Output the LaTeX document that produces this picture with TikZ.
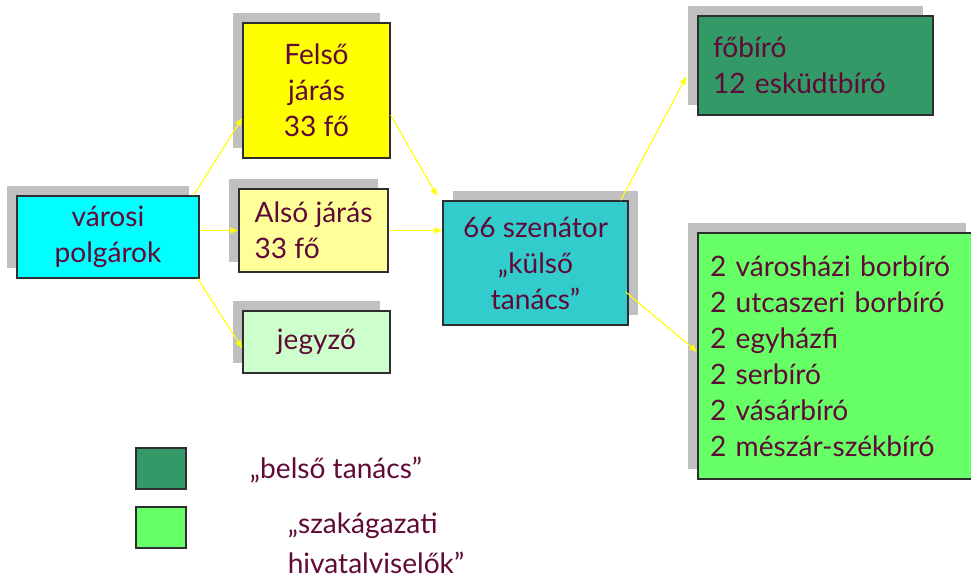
\documentclass[tikz,border=0pt]{standalone}
\usepackage{fontspec}
\setmainfont{Lato}
\usepackage{xcolor}
\usetikzlibrary{calc,shadows,arrows.meta}

\definecolor{szoveg}{RGB}{95,10,55}
\definecolor{keret}{RGB}{45,45,50}
\definecolor{arnyek}{RGB}{192,192,192}
\definecolor{sarga}{RGB}{255,255,0}
\definecolor{cian}{RGB}{0,255,255}
\definecolor{halvanysarga}{RGB}{255,255,153}
\definecolor{halvanyzold}{RGB}{204,255,204}
\definecolor{turkiz}{RGB}{51,204,204}
\definecolor{sotetzold}{RGB}{51,153,102}
\definecolor{vilagoszold}{RGB}{102,255,102}

\begin{document}
\begin{tikzpicture}[x=0.02cm,y=-0.02cm,
  doboz/.style={draw=keret,line width=0.8pt,text=szoveg,inner sep=0pt,
    font=\fontsize{16}{20.5}\selectfont},
  balarnyek/.style={drop shadow={shadow xshift=-0.2cm,shadow yshift=0.2cm,fill=arnyek,opacity=1}},
  jobbarnyek/.style={drop shadow={shadow xshift=0.2cm,shadow yshift=0.2cm,fill=arnyek,opacity=1}},
  nyil/.style={->,>={Latex[length=4.5pt,width=4pt]},draw=sarga,fill=sarga,line width=0.6pt},
  felirat/.style={text=szoveg,font=\fontsize{16}{23}\selectfont}]
\useasboundingbox (0,0) rectangle (971,580);
\clip (0,0) rectangle (971,580);

\node[doboz,balarnyek,fill=cian,minimum width=3.64cm,minimum height=1.64cm,align=center] (varos) at (108,237) {városi\\polgárok};
\node[doboz,balarnyek,fill=sarga,minimum width=2.94cm,minimum height=2.7cm,align=center] (felso) at (316.5,90.5) {Felső\\járás\\33 fő};
\node[doboz,balarnyek,fill=halvanysarga,minimum width=2.98cm,minimum height=1.66cm,align=left] (also) at (313.5,230.5) {Alsó járás\\33 fő};
\node[doboz,balarnyek,fill=halvanyzold,minimum width=2.94cm,minimum height=1.24cm,align=center] (jegyzo) at (316.5,342) {jegyző};
\node[doboz,jobbarnyek,fill=turkiz,minimum width=3.7cm,minimum height=2.48cm,align=center] (szenator) at (535.5,263) {66 szenátor\\„külső\\tanács”};
\node[doboz,balarnyek,fill=sotetzold,minimum width=4.7cm,minimum height=1.98cm,inner xsep=0.3cm,text width=4.1cm,align=left] (fobiro) at (815.5,65.5) {főbíró\\12 esküdtbíró};
\node[doboz,balarnyek,fill=vilagoszold,minimum width=5.56cm,minimum height=4.92cm,inner xsep=0.24cm,text width=5.08cm,align=left] (szakag) at (837,356)
  {2 városházi borbíró\\2 utcaszeri borbíró\\2 egyházfi\\2 serbíró\\2 vásárbíró\\2 mészár-székbíró};

% jelmagyarazat
\node[draw=keret,line width=0.8pt,fill=sotetzold,minimum width=1cm,minimum height=0.82cm] (belsojel) at (161,468.5) {};
\node[draw=keret,line width=0.8pt,fill=vilagoszold,minimum width=1cm,minimum height=0.82cm] (szakjel) at (161,527.5) {};
\node[felirat] (belso) at (336,470) {„belső tanács”};
\node[felirat,align=left] (szakfelirat) at (376,543) {„szakágazati\\hivatalviselők”};

\draw[nyil] ([xshift=-0.12cm]varos.north east) -- ($(felso.south west)!0.3!(felso.north west)$);
\draw[nyil] (varos.east |- also.west) -- (also.west);
\draw[nyil] ([xshift=-0.04cm]varos.south east) -- ($(jegyzo.south west)!0.4!(jegyzo.north west)$);
\draw[nyil] ($(felso.south east)!0.32!(felso.north east)$) -- ([shift={(-0.1cm,0.08cm)}]szenator.north west);
\draw[nyil] (also.east) -- (szenator.west |- also.east);
\draw[nyil] ([xshift=-0.16cm]szenator.north east) -- ([shift={(-0.22cm,-0.22cm)}]fobiro.west);
\draw[nyil] ([shift={(-0.06cm,-0.58cm)}]szenator.east) -- ([yshift=0.08cm]szakag.west);
\end{tikzpicture}
\end{document}
